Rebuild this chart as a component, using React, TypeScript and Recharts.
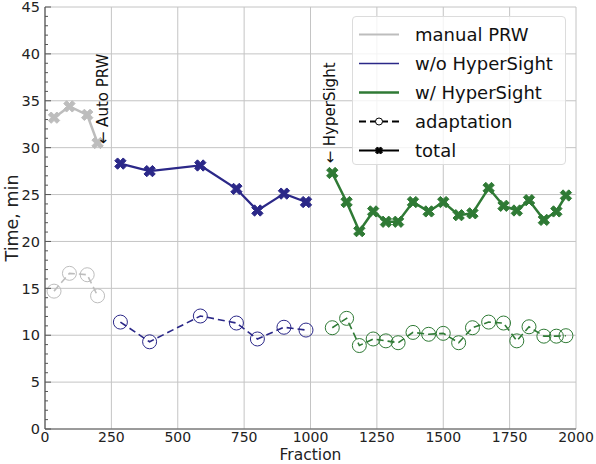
import { ComposedChart, Line, XAxis, YAxis, CartesianGrid, ReferenceDot } from "recharts";

// manual PRW
const manualX = [34, 92, 159, 198];
const manualTotal = [33.2, 34.4, 33.5, 30.5];
const manualAdapt = [14.7, 16.6, 16.45, 14.2];

// w/o HyperSight
const woX = [284, 394, 585, 721, 800, 900, 983];
const woTotal = [28.3, 27.5, 28.1, 25.6, 23.3, 25.1, 24.2];
const woAdapt = [11.4, 9.3, 12.05, 11.3, 9.6, 10.85, 10.55];

// w/ HyperSight
const wX = [1082, 1136, 1184, 1236, 1284, 1330, 1386, 1445, 1500, 1558, 1610, 1671, 1727, 1777, 1823, 1879, 1926, 1962];
const wTotal = [27.3, 24.2, 21.1, 23.2, 22.1, 22.1, 24.2, 23.2, 24.2, 22.8, 23.0, 25.7, 23.8, 23.3, 24.4, 22.3, 23.2, 24.9];
const wAdapt = [10.8, 11.8, 8.9, 9.6, 9.4, 9.2, 10.3, 10.1, 10.2, 9.2, 10.8, 11.4, 11.3, 9.4, 10.9, 9.9, 9.9, 9.95];

const xTicks = [0, 250, 500, 750, 1000, 1250, 1500, 1750, 2000];
const yTicks = [0, 5, 10, 15, 20, 25, 30, 35, 40, 45];
const yMinorTicks = Array.from({ length: 46 }, (_, i) => i);

const GRAY = "#bdbdbd";
const PURPLE = "#2b2888";
const GREEN = "#2f7a35";
const FONT = "'DejaVu Sans', sans-serif";

const toRows = (xs: number[], ys: number[]) => xs.map((x, i) => ({ x, y: ys[i] }));

const xPath = (cx: number, cy: number, s: number, w: number) => {
  const pts = [
    [w, s], [w, w], [s, w], [s, -w], [w, -w], [w, -s],
    [-w, -s], [-w, -w], [-s, -w], [-s, w], [-w, w], [-w, s],
  ];
  const r = Math.SQRT1_2;
  return (
    pts
      .map(([a, b], i) => `${i === 0 ? "M" : "L"}${cx + (a - b) * r},${cy + (a + b) * r}`)
      .join(" ") + " Z"
  );
};

const xDot = (color: string) => (p: any) => (
  <path key={`x-${p.index}`} d={xPath(p.cx, p.cy, 6, 2)} fill={color} stroke={color} strokeWidth={1} />
);

const circleDot = (color: string) => (p: any) => (
  <circle key={`c-${p.index}`} cx={p.cx} cy={p.cy} r={7} fill="none" stroke={color} strokeWidth={1} />
);

const YTick = (props: any) => {
  const { x, y, payload } = props;
  const major = payload.value % 5 === 0;
  return (
    <g>
      <line x1={x + 5} x2={x + (major ? 11 : 8)} y1={y} y2={y} stroke="#555" strokeWidth={1} />
      {major && (
        <text x={x} y={y} dy="0.36em" textAnchor="end" fontSize={14.5} fill="#222" fontFamily={FONT}>
          {payload.value}
        </text>
      )}
    </g>
  );
};

const VText = ({ viewBox, text }: any) => {
  const cx = viewBox.x + viewBox.width / 2;
  const cy = viewBox.y + viewBox.height / 2;
  return (
    <text
      x={cx}
      y={cy}
      transform={`rotate(-90 ${cx} ${cy})`}
      textAnchor="middle"
      dominantBaseline="central"
      fontSize={15}
      fill="#111"
      fontFamily={FONT}
    >
      {text}
    </text>
  );
};

const legendItems = [
  { label: "manual PRW", color: GRAY, width: 2, kind: "line" },
  { label: "w/o HyperSight", color: PURPLE, width: 1.5, kind: "line" },
  { label: "w/ HyperSight", color: GREEN, width: 2.5, kind: "line" },
  { label: "adaptation", color: "#000", width: 2, kind: "adapt" },
  { label: "total", color: "#000", width: 2, kind: "total" },
];

const Legend = () => (
  <div
    style={{
      position: "absolute",
      left: 352,
      top: 16,
      width: 214,
      height: 149,
      boxSizing: "border-box",
      border: "1px solid #dcdcdc",
      borderRadius: 4,
      background: "rgba(255,255,255,0.8)",
      fontFamily: FONT,
      fontSize: 18,
      color: "#111",
    }}
  >
    {legendItems.map((it, i) => (
      <div key={it.label} style={{ position: "absolute", left: 0, top: 3 + i * 29, height: 29, display: "flex", alignItems: "center" }}>
        <svg width={62} height={29} style={{ display: "block" }}>
          <line
            x1={6}
            x2={46}
            y1={14.5}
            y2={14.5}
            stroke={it.color}
            strokeWidth={it.width}
            strokeDasharray={it.kind === "adapt" ? "7 4" : undefined}
          />
          {it.kind === "adapt" && <circle cx={26} cy={14.5} r={3.5} fill="#fff" stroke="#000" strokeWidth={1} />}
          {it.kind === "total" && <path d={xPath(26, 14.5, 3.6, 1.4)} fill="#000" stroke="#000" strokeWidth={1} />}
        </svg>
        <span style={{ lineHeight: "29px", whiteSpace: "nowrap" }}>{it.label}</span>
      </div>
    ))}
  </div>
);

export default function App() {
  return (
    <div style={{ position: "absolute", left: 0, top: 0, width: 596, height: 464, background: "#fff", fontFamily: FONT }}>
      <ComposedChart width={596} height={464} margin={{ top: 7, right: 20, left: 0, bottom: 0 }}>
        <CartesianGrid stroke="#c4c4c4" strokeWidth={1} horizontalValues={yTicks} />
        <XAxis
          dataKey="x"
          type="number"
          domain={[0, 2000]}
          ticks={xTicks}
          interval={0}
          height={35}
          tickLine={false}
          tickSize={0}
          tickMargin={3}
          axisLine={{ stroke: "#555", strokeWidth: 1.2 }}
          tick={{ fontSize: 14, fill: "#222", fontFamily: FONT }}
          label={(p: any) => (
            <text
              x={p.viewBox.x + p.viewBox.width / 2}
              y={p.viewBox.y + 31}
              textAnchor="middle"
              fontSize={15.5}
              fill="#222"
              fontFamily={FONT}
            >
              Fraction
            </text>
          )}
        />
        <XAxis xAxisId="top" orientation="top" type="number" domain={[0, 2000]} height={0} tick={false} tickLine={false} axisLine={{ stroke: "#555", strokeWidth: 1.2 }} />
        <YAxis
          type="number"
          domain={[0, 45]}
          ticks={yMinorTicks}
          interval={0}
          width={45}
          tickLine={false}
          tickSize={0}
          tickMargin={5}
          axisLine={{ stroke: "#555", strokeWidth: 1.2 }}
          tick={YTick}
          label={(p: any) => (
            <text
              x={12}
              y={p.viewBox.y + p.viewBox.height / 2}
              transform={`rotate(-90 12 ${p.viewBox.y + p.viewBox.height / 2})`}
              textAnchor="middle"
              dominantBaseline="central"
              fontSize={17.5}
              fill="#222"
              fontFamily={FONT}
            >
              Time, min
            </text>
          )}
        />
        <YAxis yAxisId="right" orientation="right" type="number" domain={[0, 45]} width={0} tick={false} tickLine={false} axisLine={{ stroke: "#555", strokeWidth: 1.2 }} />

        <Line data={toRows(manualX, manualAdapt)} dataKey="y" stroke={GRAY} strokeWidth={1.6} strokeDasharray="7 4" dot={circleDot(GRAY)} isAnimationActive={false} />
        <Line data={toRows(woX, woAdapt)} dataKey="y" stroke={PURPLE} strokeWidth={1.6} strokeDasharray="7 4" dot={circleDot(PURPLE)} isAnimationActive={false} />
        <Line data={toRows(wX, wAdapt)} dataKey="y" stroke={GREEN} strokeWidth={1.6} strokeDasharray="7 4" dot={circleDot(GREEN)} isAnimationActive={false} />

        <Line data={toRows(manualX, manualTotal)} dataKey="y" stroke={GRAY} strokeWidth={2.5} dot={xDot(GRAY)} isAnimationActive={false} />
        <Line data={toRows(woX, woTotal)} dataKey="y" stroke={PURPLE} strokeWidth={2.2} dot={xDot(PURPLE)} isAnimationActive={false} />
        <Line data={toRows(wX, wTotal)} dataKey="y" stroke={GREEN} strokeWidth={2.5} dot={xDot(GREEN)} isAnimationActive={false} />

        <ReferenceDot x={220} y={35.2} r={0} stroke="none" fill="none" label={(p: any) => <VText viewBox={p.viewBox} text="← Auto PRW" />} />
        <ReferenceDot x={1073} y={33.7} r={0} stroke="none" fill="none" label={(p: any) => <VText viewBox={p.viewBox} text="← HyperSight" />} />
      </ComposedChart>
      <Legend />
    </div>
  );
}
